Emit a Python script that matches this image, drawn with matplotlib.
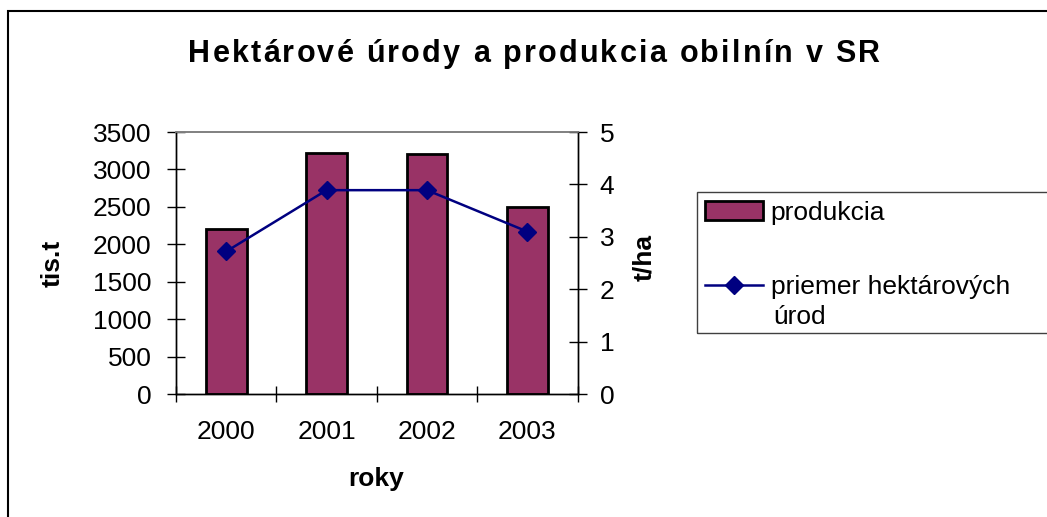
import matplotlib
matplotlib.use('Agg')
import matplotlib.pyplot as plt
from matplotlib.patches import Rectangle, Patch
from matplotlib.lines import Line2D
from matplotlib import font_manager
from matplotlib.ft2font import FT2Font

plt.rcParams['font.family'] = ['Liberation Sans', 'DejaVu Sans']

# data
roky = ['2000', '2001', '2002', '2003']
produkcia = [2200, 3220, 3200, 2500]      # tis.t
urody = [2.72, 3.89, 3.89, 3.10]          # t/ha

title = 'Hektárové úrody a produkcia obilnín v SR'
bar_color = '#993366'
line_color = '#000080'
fs = 19
W, H = 1047, 517


def spaced_text(fig, s, xc, yb, size, width):
    # letter-spaced bold text, centred at xc (px), baseline yb (px from top)
    path = font_manager.findfont(font_manager.FontProperties(
        family='Liberation Sans', weight='bold'))
    ft = FT2Font(path)
    ft.set_size(size, 100)
    adv = [ft.load_char(ord(c)).linearHoriAdvance / 65536 for c in s]
    track = (width - sum(adv)) / (len(s) - 1)
    xpos = xc - width / 2
    for c, a in zip(s, adv):
        fig.text(xpos / W, 1 - yb / H, c, ha='left', va='baseline',
                 fontsize=size, fontweight='bold')
        xpos += a + track


fig = plt.figure(figsize=(W / 100, H / 100), dpi=100)
ax = fig.add_axes([176 / W, 1 - 394 / H, 401.5 / W, 262 / H])
ax2 = ax.twinx()

x = list(range(len(roky)))
ax.bar(x, produkcia, width=0.405, color=bar_color, edgecolor='black',
       linewidth=2, zorder=2)
ax2.plot(x, urody, color=line_color, lw=1.8, marker='D', ms=9, zorder=3)

ax.set_xlim(-0.5, len(roky) - 0.5)
ax.set_ylim(0, 3500)
ax.set_yticks(range(0, 3501, 500))
ax2.set_ylim(0, 5)
ax2.set_yticks(range(0, 6))

# category boundaries as major ticks, labels on minor ticks
ax.set_xticks([i - 0.5 for i in range(len(roky) + 1)])
ax.set_xticklabels([])
ax.set_xticks(x, minor=True)
ax.set_xticklabels(roky, minor=True)
ax.tick_params(axis='x', which='major', direction='inout', length=12,
               width=1)
ax.tick_params(axis='x', which='minor', length=0, pad=19, labelsize=fs)
ax.tick_params(axis='y', direction='inout', length=13, width=1, pad=11,
               labelsize=fs)
ax2.tick_params(axis='y', direction='inout', length=13, width=1, pad=9.5,
                labelsize=fs)

for a in (ax, ax2):
    for s in ('left', 'right', 'bottom'):
        a.spines[s].set_color('black')
        a.spines[s].set_linewidth(1)
    a.spines['top'].set_color('#808080')
    a.spines['top'].set_linewidth(1.2)

spaced_text(fig, title, 534, 62, 22, 692)
fig.text(52.5 / W, 0.491, 'tis.t', rotation=90, ha='center', va='center',
         fontsize=fs, fontweight='bold')
fig.text(644 / W, 0.501, 't/ha', rotation=90, ha='center', va='center',
         fontsize=fs, fontweight='bold')
fig.text(376 / W, 1 - 486 / H, 'roky', ha='center', va='baseline',
         fontsize=fs, fontweight='bold')

# outer chart border (runs off the right and bottom edge)
fig.patches.append(Rectangle((8 / W, -0.1), 1.2, 1 - 11 / H + 0.1,
                             transform=fig.transFigure, fill=False,
                             edgecolor='black', lw=1.5))
# legend box
fig.patches.append(Rectangle((697 / W, 1 - 333 / H), 0.5, 141 / H,
                             transform=fig.transFigure, fill=False,
                             edgecolor='#404040', lw=1))
handles = [Patch(facecolor=bar_color, edgecolor='black', lw=2),
           Line2D([], [], color=line_color, lw=1.8, marker='D', ms=9)]
leg = fig.legend(handles, ['produkcia', 'priemer hektárových'],
                 loc='upper left', bbox_to_anchor=(702 / W, 1 - 198 / H),
                 frameon=False, fontsize=fs, handlelength=2.2,
                 handletextpad=0.3, labelspacing=1.9, borderpad=0.1,
                 borderaxespad=0)
fig.text(773 / W, 1 - 324 / H, 'úrod', ha='left', va='baseline',
         fontsize=fs)

fig.savefig('out.png', dpi=100)
